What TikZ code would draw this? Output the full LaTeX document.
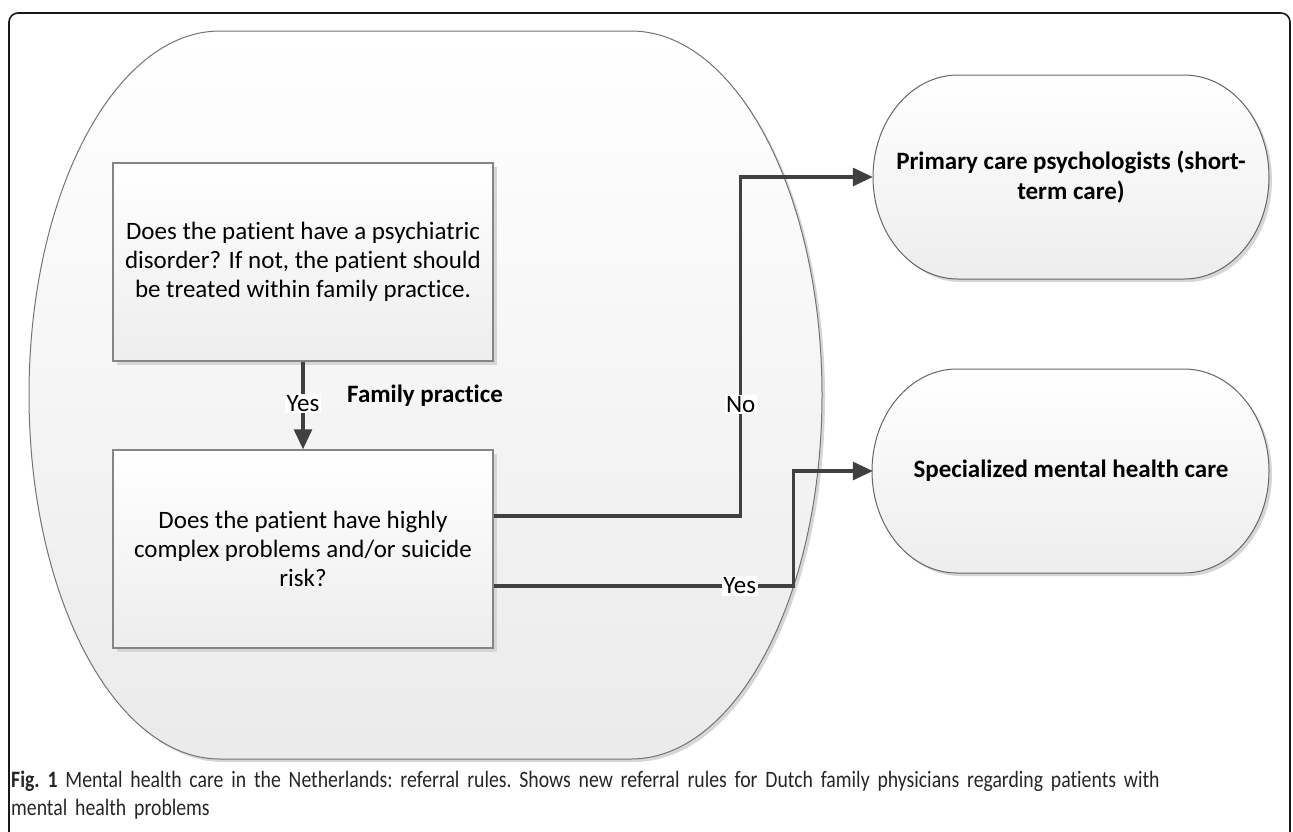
\documentclass[tikz,border=0pt]{standalone}
\usepackage{fontspec}
\setmainfont{Carlito}[Ligatures={NoCommon,NoRare,NoDiscretionary}]
\newfontfamily\capfont{Carlito}[FakeStretch=0.84,Ligatures={NoCommon,NoRare}]
\usetikzlibrary{arrows.meta,shadows,backgrounds}
\definecolor{conn}{HTML}{404040}
\definecolor{edge}{HTML}{858585}
\definecolor{shad}{HTML}{D6D6D6}
\tikzset{
  qbox/.style={rectangle, draw=edge, line width=1.5pt, top color=white, bottom color=black!7,
    minimum width=380pt, minimum height=198pt, align=center,
    font=\fontsize{25}{29.3}\selectfont,
    drop shadow={shadow xshift=4pt, shadow yshift=-4pt, fill=shad, opacity=1}},
  capnode/.style={rectangle, draw=none, minimum width=396pt, minimum height=204pt, align=center,
    font=\fontsize{25}{30}\selectfont\bfseries},
  capshape/.style={draw=black!60, line width=1pt, top color=white, bottom color=black!7},
  conn/.style={draw=conn, line width=3.1pt, -{Triangle[length=20pt,width=18pt]}},
  lbl/.style={fill=white, inner sep=1.5pt, font=\fontsize{25}{28}\selectfont, text=black},
}
\begin{document}
\begin{tikzpicture}[x=1pt,y=-1pt]
\useasboundingbox (0,0) rectangle (1293,831);
% outer frame
\draw[black!90, line width=1.6pt, rounded corners=9pt] (9,840) -- (9,13) -- (1290,13) -- (1290,840);
% container (family practice)
\fill[shad] (223,34) -- (634,34) arc[start angle=-90,end angle=90,x radius=191,y radius=364] -- (223,762) arc[start angle=90,end angle=270,x radius=191,y radius=364] -- cycle;
\path[draw=black!55, line width=1pt, top color=white, bottom color=black!8]
  (220,31) -- (631,31) arc[start angle=-90,end angle=90,x radius=191,y radius=364] -- (220,759) arc[start angle=90,end angle=270,x radius=191,y radius=364] -- cycle;
% capsules
\fill[shad] (961,78) -- (1187,78) arc[start angle=-90,end angle=90,x radius=85,y radius=102] -- (961,282) arc[start angle=90,end angle=270,x radius=85,y radius=102] -- cycle;
\path[capshape] (958,75) -- (1184,75) arc[start angle=-90,end angle=90,x radius=85,y radius=102] -- (958,279) arc[start angle=90,end angle=270,x radius=85,y radius=102] -- cycle;
\fill[shad] (960,372) -- (1187,372) arc[start angle=-90,end angle=90,x radius=85,y radius=102] -- (960,576) arc[start angle=90,end angle=270,x radius=85,y radius=102] -- cycle;
\path[capshape] (957,369) -- (1184,369) arc[start angle=-90,end angle=90,x radius=85,y radius=102] -- (957,573) arc[start angle=90,end angle=270,x radius=85,y radius=102] -- cycle;

% nodes
\node[qbox] (b1) at (303,262) {Does the patient have a psychiatric\\disorder? If not, the patient should\\be treated within family practice.};
\node[qbox] (b2) at (303,549) {Does the patient have highly\\complex problems and/or suicide\\risk?};
\node[capnode] (c1) at (1071,177) {Primary care psychologists (short-\\term care)};
\node[capnode] (c2) at (1071,471) {Specialized mental health care};
\node[font=\fontsize{25}{28}\selectfont\bfseries, anchor=west, inner sep=0pt] (fp) at (347,396) {Family practice};

% connectors
\draw[conn] (b1.south) -- node[lbl, pos=0.48] {Yes} (b2.north);
\draw[conn] ([yshift=33pt]b2.east) -- ++(247,0) |- node[lbl, pos=0.165] {No} (c1.west);
\draw[conn] ([yshift=-37pt]b2.east) -- node[lbl, pos=0.82] {Yes} ++(300,0) |- (c2.west);

% caption
\node[anchor=north west, inner sep=0pt, text width=1270pt, align=left,
      font=\capfont\fontsize{23.5}{28}\selectfont\frenchspacing, text=black!85] (cap) at (11,771)
  {\textbf{Fig.~1} Mental health care in the Netherlands: referral rules. Shows new referral rules for Dutch family physicians regarding patients with\\mental health problems};
\end{tikzpicture}
\end{document}
